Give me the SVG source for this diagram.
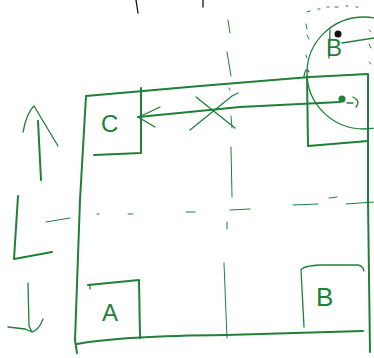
<svg xmlns="http://www.w3.org/2000/svg" width="374" height="358" viewBox="0 0 374 358">
<style>
.s{fill:none;stroke:#1f8038;stroke-width:2;stroke-linecap:round;stroke-linejoin:round}
.t{fill:none;stroke:#1f8038;stroke-width:1.3;stroke-linecap:round}
.d{fill:none;stroke:#1f8038;stroke-width:1;stroke-linecap:round}
.k{fill:none;stroke:#111;stroke-width:1.3;stroke-linecap:round}
.l{font-family:"Liberation Sans",Arial,sans-serif;fill:#1f8038;font-weight:normal}
</style>
<rect width="374" height="358" fill="#fff"/>
<g id="marks">
<path class="k" d="M136 0 L138 13 M203 0 L203 7"/>
</g>
<g id="grid">
<path class="d" d="M228 20 L230 33 M227 52 L231 76 M229 88 L230 90 M231 116 L232 128 M231 147 L232 197 M227 222 L227 229 M224 263 L227 338"/>
<path class="d" d="M97 214 L99 214 M128 214 L133 214 M186 212 L195 212 M230 210 L250 209 M293 205 L318 204 M329 198 L337 197 M346 204 L374 202 M46 222 L70 218"/>
</g>
<g id="frame">
<path class="s" d="M86 96 L200 86 L310 77 L368 74 L368 200 L370 352"/>
<path class="s" d="M86 96 L80 200 L75 340 L77 353"/>
<path class="s" d="M77 344 Q120 336 226 335 L363 331"/>
</g>
<g id="nodeC">
<path class="s" d="M141 88 L141 153 L94 155"/>
<text class="l" x="101" y="132" font-size="24">C</text>
</g>
<g id="nodeA">
<path class="s" d="M88 285 L139 280 L140 338"/>
<path class="t" d="M90 285 L90 289"/>
<text class="l" x="102" y="321" font-size="24">A</text>
</g>
<g id="nodeB">
<path class="t" d="M304 327 L301 270 Q303 266 320 265 L358 265 Q363 266 364 271"/>
<text class="l" x="316" y="306" font-size="26">B</text>
</g>
<g id="nodeB2">
<path class="t" d="M309 72 Q306 66 304 76"/>
<ellipse class="t" cx="364" cy="73" rx="57" ry="56"/>
<path class="s" d="M307 76 L308 146 L368 141"/>
<path class="d" d="M307 12 L310 11 M318 9 L320 9 M327 7 L329 7 M335 7 L338 7 M346 6 L348 6 M356 7 L358 7 M306 24 L307 29 M307 35 L309 39 M306 55 L307 58 M369 30 L371 32 M369 44 L371 48 M369 62 L371 64"/>
<path class="t" d="M330 30 L329 58"/>
<text class="l" x="326" y="56" font-size="24">B</text>
<circle cx="338" cy="34" r="3.5" fill="#111"/>
<path class="t" d="M342 43 L374 38"/>
<circle cx="342" cy="99" r="3.5" fill="#1f8038"/>
<path class="t" d="M347 103 L353 103 M353 97 Q361 101 356 107"/>
</g>
<g id="arrows">
<path class="s" d="M38 121 L41 180"/>
<path class="t" d="M23 132 Q27 112 34 106 L58 146"/>
<path class="s" d="M18 196 L14 259 L52 252"/>
<path class="t" d="M28 283 L29 326 L32 332 Q39 330 43 319 M8 327 L25 329 L32 332"/>
</g>
<g id="connectors">
<path class="s" d="M340 102 L240 107 L138 117"/>
<path class="t" d="M160 107 Q148 113 138 117 L155 127"/>
<path class="t" d="M196 97 L235 128 M190 130 L232 96 L238 93"/>
</g>
</svg>
